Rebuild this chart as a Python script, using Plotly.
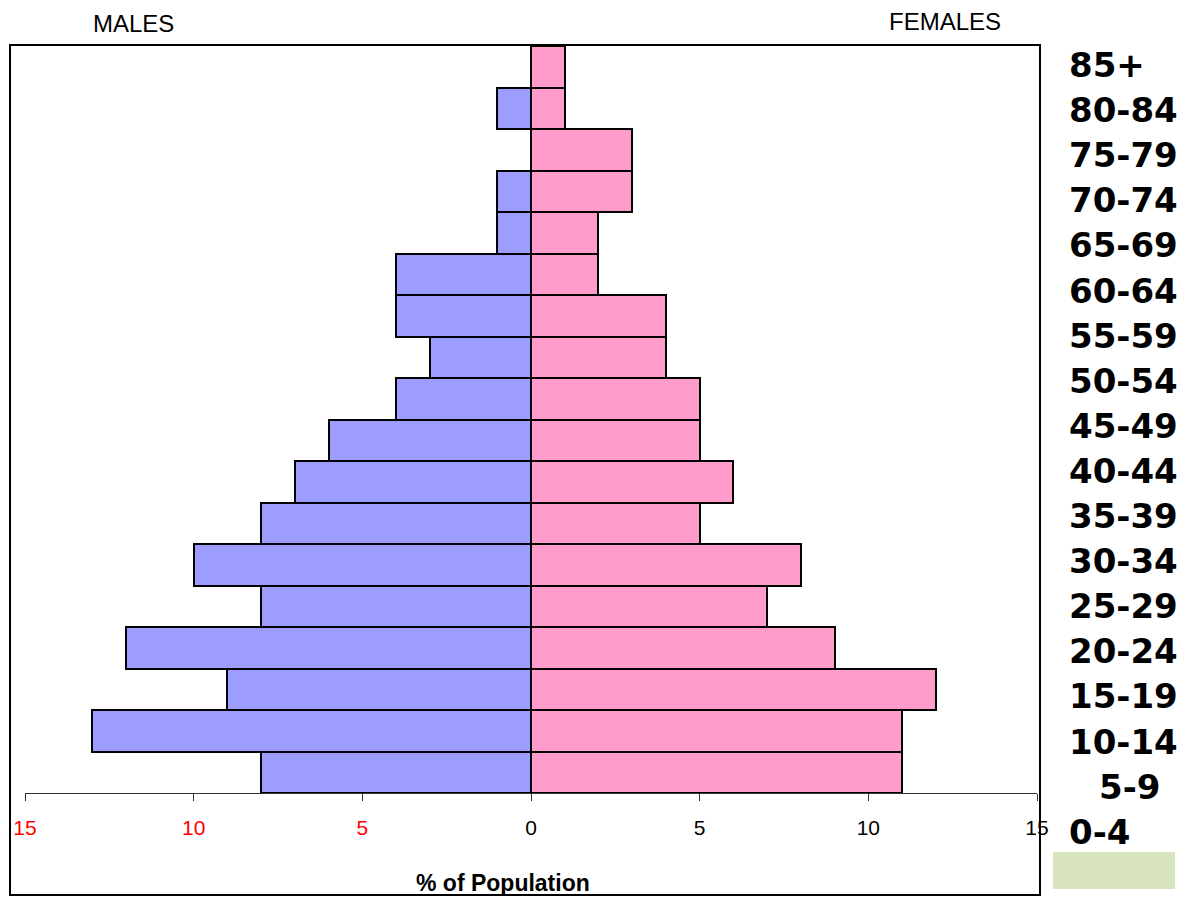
import plotly.graph_objects as go

# ---------------- data ----------------
age_groups = ["0-4", "5-9", "10-14", "15-19", "20-24", "25-29", "30-34", "35-39",
              "40-44", "45-49", "50-54", "55-59", "60-64", "65-69", "70-74",
              "75-79", "80-84", "85+"]
males_pct = [8, 13, 9, 12, 8, 10, 8, 7, 6, 4, 3, 4, 4, 1, 1, 0, 1, 0]
females_pct = [11, 11, 12, 9, 7, 8, 5, 6, 5, 5, 4, 4, 2, 2, 3, 3, 1, 1]
tick_values = [-15, -10, -5, 0, 5, 10, 15]
tick_labels = ["15", "10", "5", "0", "5", "10", "15"]

# ---------------- layout constants ----------------
OFF = 8  # page body margin in the browser
W, H = 1187 - OFF, 897 - OFF
PL, PR, PT, PB = 25 - OFF, 1037 - OFF, 46 - OFF, 793 - OFF  # plot area in figure pixels


def px_x(p):
    """reference-page pixel x -> paper coordinate"""
    return (p - OFF - PL) / (PR - PL)


def px_y(p):
    """reference-page pixel y -> paper coordinate"""
    return (PB - (p - OFF)) / (PB - PT)


fig = go.Figure()
fig.add_trace(go.Bar(
    y=age_groups, x=[-v for v in males_pct], orientation="h", name="Males",
    marker=dict(color="#9d9dff", line=dict(color="black", width=2)),
))
fig.add_trace(go.Bar(
    y=age_groups, x=females_pct, orientation="h", name="Females",
    marker=dict(color="#ff9ccc", line=dict(color="black", width=2)),
))

ticktext = [f'<span style="color:#ff0000">{t}</span>' if v < 0 else t
            for v, t in zip(tick_values, tick_labels)]

fig.update_layout(
    width=W, height=H, autosize=False,
    margin=dict(l=PL, r=W - PR, t=PT, b=H - PB, pad=0),
    paper_bgcolor="white", plot_bgcolor="white",
    barmode="relative", bargap=0, showlegend=False,
    xaxis=dict(range=[-15, 15], tickvals=tick_values, ticktext=ticktext,
               showgrid=False, zeroline=False, showline=True, automargin=False,
               linecolor="#333333", linewidth=1, ticks="outside", ticklen=7,
               tickcolor="#333333", ticklabelstandoff=9,
               tickfont=dict(family="Liberation Sans Narrow, Liberation Sans, Arial",
                             size=21, color="black")),
    yaxis=dict(range=[-0.5, 17.5], showticklabels=False, showgrid=False,
               zeroline=False, showline=False, ticks="", automargin=False),
)

# frame around the chart
fig.add_shape(type="rect", xref="paper", yref="paper",
              x0=px_x(10), x1=px_x(1040), y0=px_y(895), y1=px_y(45),
              line=dict(color="black", width=2), fillcolor="rgba(0,0,0,0)")
# green box bottom right
fig.add_shape(type="rect", xref="paper", yref="paper",
              x0=px_x(1053), x1=px_x(1175), y0=px_y(889), y1=px_y(852),
              line=dict(width=0), fillcolor="#d7e4bd", layer="below")

# header texts
fig.add_annotation(text="MALES", xref="paper", yref="paper", x=px_x(133), y=px_y(23),
                   showarrow=False, xanchor="center", yanchor="middle",
                   font=dict(family="Liberation Sans Narrow, Liberation Sans, Arial",
                             size=24, color="black"))
fig.add_annotation(text="FEMALES", xref="paper", yref="paper", x=px_x(945), y=px_y(21),
                   showarrow=False, xanchor="center", yanchor="middle",
                   font=dict(family="Liberation Sans Narrow, Liberation Sans, Arial",
                             size=24, color="black"))
fig.add_annotation(text="<b>% of Population</b>", xref="paper", yref="paper",
                   x=px_x(503), y=px_y(883), showarrow=False,
                   xanchor="center", yanchor="middle",
                   font=dict(family="Liberation Sans, Arial", size=23, color="black"))

# age group labels on the right
n = len(age_groups)
for i, label in enumerate(age_groups):
    k = n - 1 - i  # 0 for top label
    py = 65 + 45.1 * k
    xstart = 1097 if label == "5-9" else 1067
    fig.add_annotation(text=f"<b>{label}</b>", xref="paper", yref="paper",
                       x=px_x(xstart), y=px_y(py), showarrow=False,
                       xanchor="left", yanchor="middle",
                       font=dict(family="DejaVu Sans", size=34, color="black"))

fig.write_html("out.html")
